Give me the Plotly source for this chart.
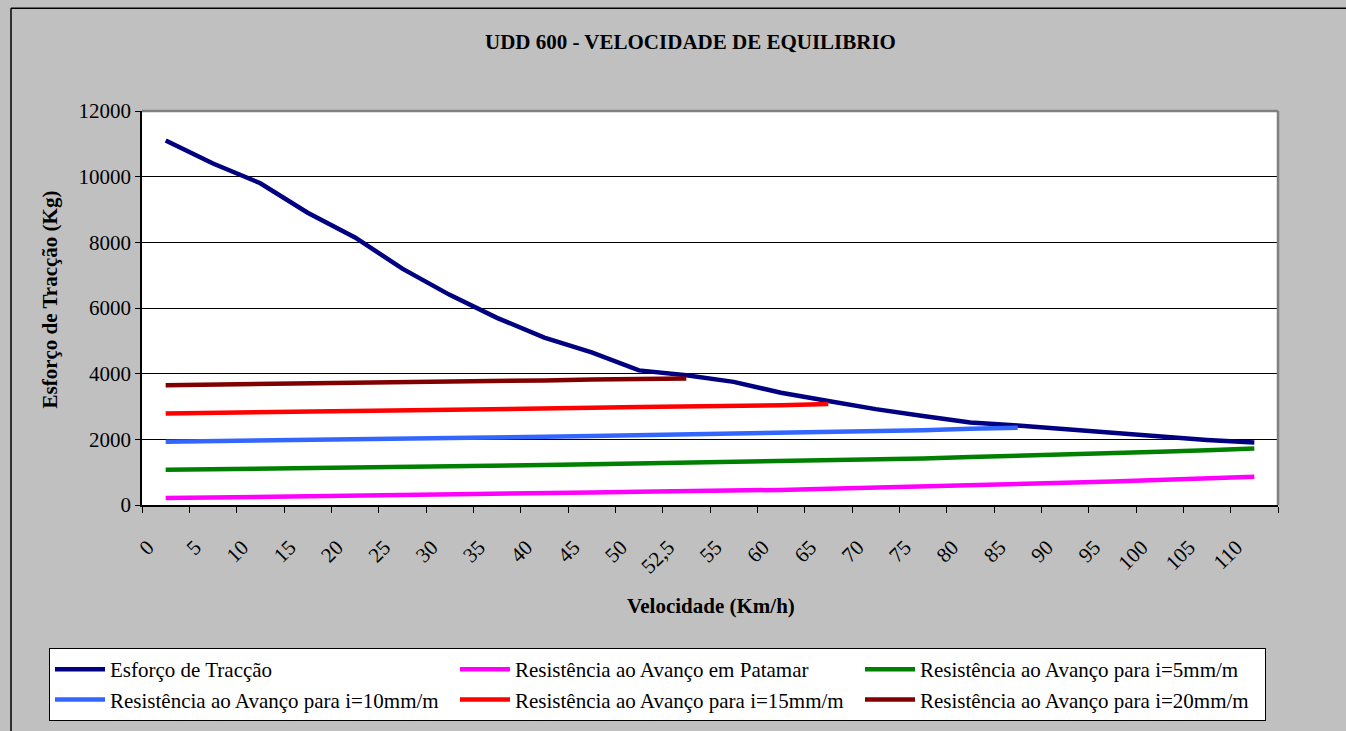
import plotly.graph_objects as go

categories = ["0", "5", "10", "15", "20", "25", "30", "35", "40", "45", "50", "52,5",
              "55", "60", "65", "70", "75", "80", "85", "90", "95", "100", "105", "110"]

esforco = [11100, 10400, 9800, 8900, 8150, 7200, 6400, 5700, 5100, 4650, 4100, 3950,
           3750, 3420, 3170, 2920, 2710, 2510, 2420, 2310, 2190, 2080, 1980, 1900]
patamar = [210, 225, 240, 255, 270, 290, 310, 335, 355, 380, 405, 415,
           430, 460, 495, 525, 560, 600, 635, 675, 715, 760, 810, 860]
i5 = [1070, 1085, 1100, 1115, 1130, 1150, 1170, 1195, 1215, 1240, 1265, 1275,
      1290, 1320, 1355, 1385, 1420, 1460, 1495, 1535, 1575, 1620, 1670, 1720]
i10 = [1930, 1945, 1960, 1975, 1990, 2010, 2030, 2055, 2075, 2100, 2125, 2135,
       2150, 2180, 2215, 2245, 2280, 2320, 2355]
i15 = [2790, 2805, 2820, 2835, 2850, 2870, 2890, 2915, 2935, 2960, 2985, 2995,
       3010, 3040, 3075]
i20 = [3650, 3665, 3680, 3695, 3710, 3730, 3750, 3775, 3795, 3820, 3845, 3855]

names = ["Esforço de Tracção",
         "Resistência ao Avanço em Patamar",
         "Resistência ao Avanço para i=5mm/m",
         "Resistência ao Avanço para i=10mm/m",
         "Resistência ao Avanço para i=15mm/m",
         "Resistência ao Avanço para i=20mm/m"]
series = [esforco, patamar, i5, i10, i15, i20]
colors = ["#000080", "#FF00FF", "#008000", "#3366FF", "#FF0000", "#800000"]

FONT = "Liberation Serif"
FS = 21
W, H = 1346, 731
L, R, T, B = 142, 68, 111, 225
PW, PH = W - L - R, H - T - B


def px_x(x):
    return (x - L) / PW


def px_y(y):
    return (H - B - y) / PH


fig = go.Figure()
for name, vals, col in zip(names, series, colors):
    fig.add_trace(go.Scatter(
        x=categories[:len(vals)], y=vals, name=name, mode="lines",
        line=dict(color=col, width=4.5),
    ))

fig.update_layout(
    width=W, height=H,
    margin=dict(l=L, r=R, t=T, b=B, pad=0),
    paper_bgcolor="#C0C0C0",
    plot_bgcolor="#FFFFFF",
    font=dict(family=FONT, size=FS, color="#000000"),
    showlegend=True,
    legend=dict(
        orientation="h",
        x=px_x(49), y=px_y(648), xanchor="left", yanchor="top",
        bgcolor="#FFFFFF", bordercolor="#000000", borderwidth=1,
        font=dict(family=FONT, size=FS, color="#000000"),
        entrywidth=340, entrywidthmode="pixels",
        itemwidth=50, tracegroupgap=0,
    ),
    xaxis=dict(
        type="category", categoryorder="array", categoryarray=categories,
        range=[-0.5, len(categories) - 0.5],
        showgrid=False, zeroline=False,
        showline=True, linecolor="#000000", linewidth=1.5,
        ticks="outside", tickson="boundaries", ticklen=6, tickcolor="#000000", tickwidth=1,
        tickangle=-45, ticklabelshift=-18, ticklabelstandoff=20,
        tickfont=dict(family=FONT, size=FS),
    ),
    yaxis=dict(
        range=[0, 12000], dtick=2000, tick0=0, tickformat="d",
        showgrid=True, gridcolor="#000000", gridwidth=1,
        zeroline=False,
        showline=True, linecolor="#000000", linewidth=1.5,
        ticks="outside", ticklen=5, tickcolor="#000000", tickwidth=1,
        tickfont=dict(family=FONT, size=FS),
    ),
    annotations=[
        dict(text="<b>UDD 600 - VELOCIDADE DE EQUILIBRIO</b>", xref="paper", yref="paper",
             x=px_x(690), y=px_y(42), xanchor="center", yanchor="middle", showarrow=False,
             font=dict(family=FONT, size=FS)),
        dict(text="<b>Velocidade (Km/h)</b>", xref="paper", yref="paper",
             x=px_x(711), y=px_y(607), xanchor="center", yanchor="middle", showarrow=False,
             font=dict(family=FONT, size=FS)),
        dict(text="<b>Esforço de Tracção (Kg)</b>", xref="paper", yref="paper",
             x=px_x(50), y=px_y(300), xanchor="center", yanchor="middle", showarrow=False,
             textangle=-90, font=dict(family=FONT, size=FS)),
    ],
    shapes=[
        dict(type="line", xref="paper", yref="paper", x0=0, x1=1, y0=1, y1=1,
             line=dict(color="#808080", width=2.5), layer="above"),
        dict(type="line", xref="paper", yref="paper", x0=1, x1=1, y0=0, y1=1,
             line=dict(color="#808080", width=2.5), layer="above"),
        dict(type="line", xref="paper", yref="paper", x0=px_x(11), x1=px_x(11), y0=px_y(8), y1=px_y(740),
             line=dict(color="#000000", width=1.5), layer="above"),
        dict(type="line", xref="paper", yref="paper", x0=px_x(11), x1=px_x(1360), y0=px_y(8), y1=px_y(8),
             line=dict(color="#000000", width=1.5), layer="above"),
    ],
)

fig.write_html("out.html", config={"displayModeBar": False},
               post_script="document.body.style.margin='0';document.body.style.overflow='hidden';")
